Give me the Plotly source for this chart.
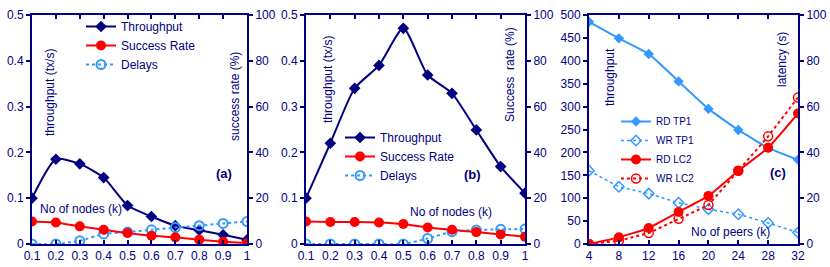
import plotly.graph_objects as go

# ---------------- data ----------------
nodes = [0.1, 0.2, 0.3, 0.4, 0.5, 0.6, 0.7, 0.8, 0.9, 1.0]

# panel (a)
a_throughput = [0.100, 0.185, 0.175, 0.145, 0.084, 0.060, 0.040, 0.030, 0.020, 0.009]
a_success = [9.8, 9.4, 7.7, 6.2, 4.8, 3.6, 2.9, 1.9, 1.0, 0.4]          # %
a_delays = [0.000, 0.000, 0.007, 0.022, 0.026, 0.031, 0.036, 0.040, 0.045, 0.049]

# panel (b)
b_throughput = [0.100, 0.220, 0.340, 0.390, 0.471, 0.369, 0.329, 0.249, 0.169, 0.111]
b_success = [9.8, 9.6, 9.6, 9.4, 8.7, 7.2, 6.2, 5.2, 4.2, 3.2]           # %
b_delays = [0.000, 0.000, 0.000, 0.000, 0.000, 0.012, 0.027, 0.0305, 0.032, 0.0327]

# panel (c)
peers = [4, 8, 12, 16, 20, 24, 28, 32]
rd_tp1 = [485, 449, 415, 355, 295, 249, 210, 184]
wr_tp1 = [160, 125, 110, 90, 76, 65, 46, 25]
rd_lc2 = [0.0, 2.9, 7.0, 14.0, 21.0, 32.0, 42.0, 57.0]    # latency (s)
wr_lc2 = [0.0, 1.4, 4.8, 11.0, 17.0, 32.0, 47.0, 64.0]    # latency (s)

left_ticks_ab = [0, 0.1, 0.2, 0.3, 0.4, 0.5]
left_ticks_c = [0, 50, 100, 150, 200, 250, 300, 350, 400, 450, 500]
right_ticks = [0, 20, 40, 60, 80, 100]
x_ticks_ab = nodes
x_ticks_c = peers

# ---------------- style ----------------
NAVY = "#000080"
RED = "#ff0000"
LBLUE = "#3399ff"
FONT = "Arial, Liberation Sans, sans-serif"
W, H = 830, 267

def px_x(p):
    return p / W

def px_y(p):
    return 1 - p / H

fig = go.Figure()

def add_panel(xa, ya, yr, thr, suc, dly, legend):
    fig.add_trace(go.Scatter(x=nodes, y=thr, name="Throughput", xaxis=xa, yaxis=ya,
                             mode="lines+markers", line=dict(color=NAVY, width=2, shape="spline", smoothing=0.6),
                             marker=dict(symbol="diamond", size=9, color=NAVY), legend=legend))
    fig.add_trace(go.Scatter(x=nodes, y=suc, name="Success Rate", xaxis=xa, yaxis=yr,
                             mode="lines+markers", line=dict(color=RED, width=2, shape="spline", smoothing=0.4),
                             marker=dict(symbol="circle", size=10, color=RED), legend=legend))
    fig.add_trace(go.Scatter(x=nodes, y=dly, name="Delays", xaxis=xa, yaxis=ya,
                             mode="lines+markers", line=dict(color=LBLUE, width=2, dash="dot", shape="spline", smoothing=0.5),
                             marker=dict(symbol="circle-open", size=9, color=LBLUE, line=dict(width=2)), legend=legend))

add_panel("x", "y", "y4", a_throughput, a_success, a_delays, "legend")
add_panel("x2", "y2", "y5", b_throughput, b_success, b_delays, "legend2")

fig.add_trace(go.Scatter(x=peers, y=rd_tp1, name="RD TP1", xaxis="x3", yaxis="y3",
                         mode="lines+markers", line=dict(color=LBLUE, width=2, shape="spline", smoothing=0.4),
                         marker=dict(symbol="diamond", size=8, color=LBLUE), legend="legend3"))
fig.add_trace(go.Scatter(x=peers, y=wr_tp1, name="WR TP1", xaxis="x3", yaxis="y3",
                         mode="lines+markers", line=dict(color=LBLUE, width=1.5, dash="dot"),
                         marker=dict(symbol="diamond-open", size=8, color=LBLUE, line=dict(width=1.5)), legend="legend3"))
fig.add_trace(go.Scatter(x=peers, y=rd_lc2, name="RD LC2", xaxis="x3", yaxis="y6",
                         mode="lines+markers", line=dict(color=RED, width=2, shape="spline", smoothing=0.4),
                         marker=dict(symbol="circle", size=10, color=RED), legend="legend3"))
fig.add_trace(go.Scatter(x=peers, y=wr_lc2, name="WR LC2", xaxis="x3", yaxis="y6",
                         mode="lines+markers", line=dict(color=RED, width=2, dash="dot"),
                         marker=dict(symbol="circle-open", size=9, color=RED, line=dict(width=1.5)), legend="legend3"))

ydom = [px_y(244), px_y(15)]
doms = {"a": [px_x(32), px_x(247)], "b": [px_x(306), px_x(525)], "c": [px_x(589), px_x(798)]}

def xax(dom, anchor, rng, ticks):
    return dict(domain=dom, anchor=anchor, range=rng, tickvals=ticks, showline=True, linecolor=NAVY,
                linewidth=2, mirror="ticks", ticks="inside", ticklen=4, tickcolor=NAVY, tickwidth=1.5,
                showgrid=False, zeroline=False, automargin=False,
                tickfont=dict(size=12, color=NAVY, family=FONT))

def yax(anchor, rng, ticks, overlay=None, side="left"):
    d = dict(domain=ydom, anchor=anchor, range=rng, tickvals=ticks, showline=True, linecolor=NAVY,
             linewidth=2, ticks="outside", ticklen=4, tickcolor=NAVY, tickwidth=1.5, side=side,
             showgrid=False, zeroline=False, automargin=False,
             tickfont=dict(size=12, color=NAVY, family=FONT))
    if overlay:
        d["overlaying"] = overlay
    return d

def leg(x, y, size):
    return dict(x=px_x(x), y=px_y(y), xanchor="left", yanchor="top", bgcolor="rgba(0,0,0,0)",
                traceorder="normal", tracegroupgap=0, font=dict(size=size, color=NAVY, family=FONT))

fig.update_layout(
    width=W, height=H, margin=dict(l=0, r=0, t=0, b=0, autoexpand=False),
    paper_bgcolor="white", plot_bgcolor="white",
    font=dict(family=FONT, color=NAVY, size=12),
    xaxis=xax(doms["a"], "y", [0.1, 1.0], x_ticks_ab),
    xaxis2=xax(doms["b"], "y2", [0.1, 1.0], x_ticks_ab),
    xaxis3=xax(doms["c"], "y3", [4, 32], x_ticks_c),
    yaxis=yax("x", [0, 0.5], left_ticks_ab),
    yaxis2=yax("x2", [0, 0.5], left_ticks_ab),
    yaxis3=yax("x3", [0, 500], left_ticks_c),
    yaxis4=yax("x", [0, 100], right_ticks, overlay="y", side="right"),
    yaxis5=yax("x2", [0, 100], right_ticks, overlay="y2", side="right"),
    yaxis6=yax("x3", [0, 100], right_ticks, overlay="y3", side="right"),
    legend=leg(81, 12, 12),
    legend2=leg(340, 123, 12),
    legend3=leg(616, 107, 10),
)

def ann(text, x, y, angle=0, size=12, xanchor="center", bold=False):
    if bold:
        text = "<b>" + text + "</b>"
    fig.add_annotation(text=text, x=px_x(x), y=px_y(y), xref="paper", yref="paper", showarrow=False,
                       textangle=angle, xanchor=xanchor, yanchor="middle",
                       font=dict(size=size, color=NAVY, family=FONT))

ann("throughput (tx/s)", 50, 93, angle=-90)
ann("success rate (%)", 235, 97, angle=-90)
ann("No of nodes (k)", 38, 209, xanchor="left")
ann("(a)", 224, 173, size=13, bold=True)

ann("throughput (tx/s)", 328, 80, angle=-90)
ann("Success&nbsp; rate (%)", 510, 75, angle=-90)
ann("No of nodes (k)", 408, 212, xanchor="left")
ann("(b)", 472, 174, size=13, bold=True)

ann("throughput", 610, 77, angle=-90)
ann("latency (s)", 782, 60, angle=-90)
ann("No of peers (k)", 689, 232, xanchor="left")
ann("(c)", 778, 172, size=13, bold=True)

fig.write_html("out.html", config={"displayModeBar": False},
               post_script="document.body.style.margin='0px';")
